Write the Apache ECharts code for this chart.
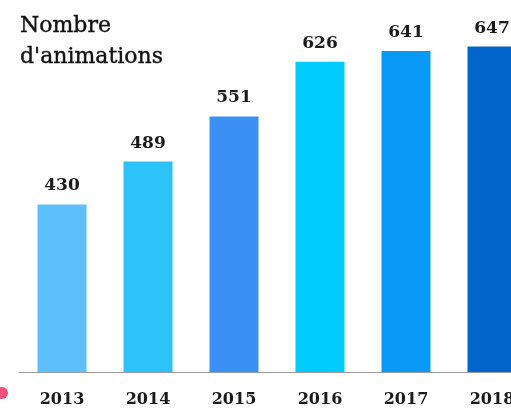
<!DOCTYPE html>
<html>
<head>
<meta charset="utf-8">
<script src="https://cdn.jsdelivr.net/npm/echarts@6/dist/echarts.min.js"></script>
<style>html,body{margin:0;padding:0;background:#fff}#c{width:511px;height:410px}</style>
</head>
<body>
<div id="c"></div>
<script>
const categories = ['2013', '2014', '2015', '2016', '2017', '2018'];
const values = [430, 489, 551, 626, 641, 647];
const barColors = ['#5EC0FA', '#2CC4F8', '#3A90F5', '#00CCFC', '#0898F5', '#0066CC'];
const titleText = "Nombre\nd'animations";

const chart = echarts.init(document.getElementById('c'), null, {renderer: 'canvas'});
chart.setOption({
  backgroundColor: '#ffffff',
  animation: false,
  title: {
    text: titleText,
    left: 15, top: 6,
    textStyle: {fontFamily: 'DejaVu Serif', fontSize: 22, fontWeight: 'normal', color: '#111111', lineHeight: 31,
      textBorderColor: '#111111', textBorderWidth: 0.4}
  },
  grid: {left: 19, width: 516, top: 8, bottom: 38, containLabel: false, outerBoundsMode: 'none'},
  xAxis: {
    type: 'category',
    data: categories,
    axisLine: {show: true, lineStyle: {color: '#9a9a9a', width: 1}},
    axisTick: {show: false},
    axisLabel: {fontFamily: 'DejaVu Serif', fontSize: 16, fontWeight: 'bold', color: '#1a1a1a', margin: 20, hideOverlap: false}
  },
  yAxis: {
    type: 'value', min: 200, max: 700, show: false,
    splitLine: {show: false}
  },
  series: [{
    type: 'bar',
    barWidth: 49,
    data: values.map((v, i) => ({value: v, itemStyle: {color: barColors[i]}})),
    label: {
      show: true, position: 'top', distance: 10,
      fontFamily: 'DejaVu Serif', fontSize: 17, fontWeight: 'bold', color: '#1a1a1a'
    }
  }],
  graphic: [{
    type: 'circle', shape: {cx: 2, cy: 393, r: 6}, style: {fill: '#F0507A'}
  }]
});
</script>
</body>
</html>
